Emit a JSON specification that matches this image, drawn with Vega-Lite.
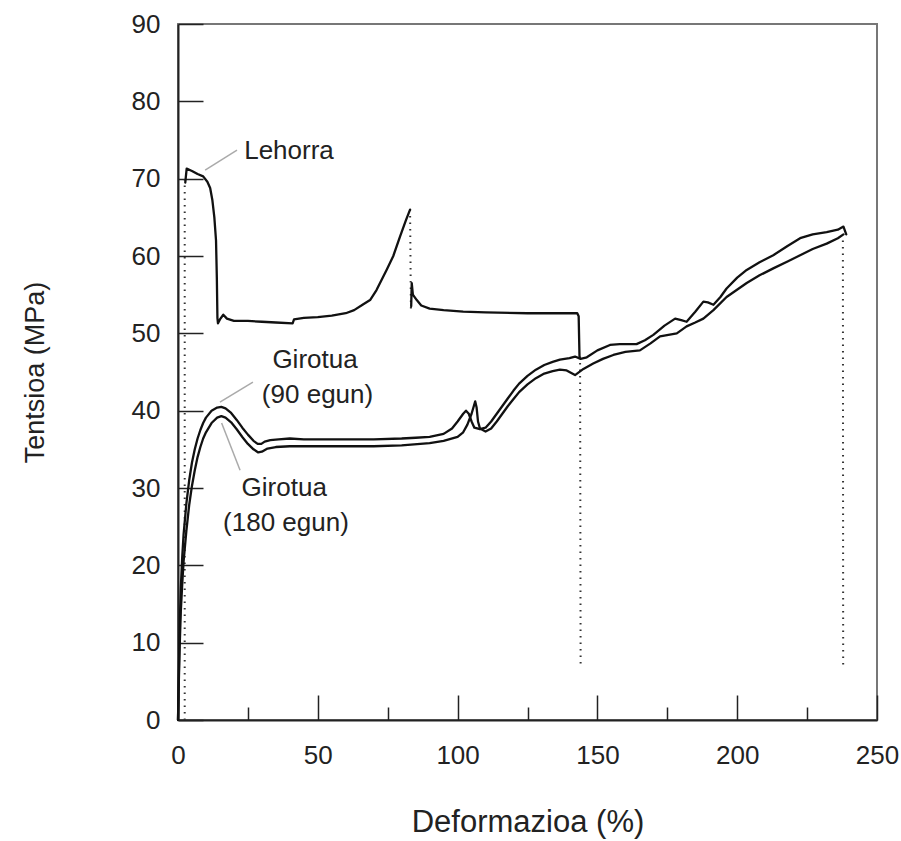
{
  "$schema": "https://vega.github.io/schema/vega-lite/v6.json",
  "width": 699,
  "height": 696,
  "autosize": "none",
  "padding": {"left": 178, "top": 24, "right": 24, "bottom": 121},
  "background": "white",
  "config": {
    "view": {"stroke": "#777", "strokeWidth": 2},
    "font": "Liberation Sans"
  },
  "datasets": {
    "solid": [
      {"s": "Lehorra1", "x": 2.6, "y": 69.5}, {"s": "Lehorra1", "x": 3.1, "y": 71.3}, {"s": "Lehorra1", "x": 5, "y": 71.0}, {"s": "Lehorra1", "x": 7, "y": 70.6}, {"s": "Lehorra1", "x": 9, "y": 70.3}, {"s": "Lehorra1", "x": 10.5, "y": 69.6}, {"s": "Lehorra1", "x": 11.5, "y": 68.8}, {"s": "Lehorra1", "x": 12.3, "y": 67.2}, {"s": "Lehorra1", "x": 13, "y": 65}, {"s": "Lehorra1", "x": 13.6, "y": 62}, {"s": "Lehorra1", "x": 13.9, "y": 57}, {"s": "Lehorra1", "x": 14.1, "y": 52}, {"s": "Lehorra1", "x": 14.3, "y": 51.3}, {"s": "Lehorra1", "x": 15, "y": 51.8}, {"s": "Lehorra1", "x": 16.2, "y": 52.4}, {"s": "Lehorra1", "x": 17.5, "y": 51.9}, {"s": "Lehorra1", "x": 20, "y": 51.6}, {"s": "Lehorra1", "x": 25, "y": 51.6}, {"s": "Lehorra1", "x": 30, "y": 51.5}, {"s": "Lehorra1", "x": 35, "y": 51.4}, {"s": "Lehorra1", "x": 41, "y": 51.3}, {"s": "Lehorra1", "x": 41.5, "y": 51.8}, {"s": "Lehorra1", "x": 45, "y": 52}, {"s": "Lehorra1", "x": 50, "y": 52.1}, {"s": "Lehorra1", "x": 55, "y": 52.3}, {"s": "Lehorra1", "x": 60, "y": 52.6}, {"s": "Lehorra1", "x": 63, "y": 53}, {"s": "Lehorra1", "x": 66, "y": 53.7}, {"s": "Lehorra1", "x": 68.7, "y": 54.3}, {"s": "Lehorra1", "x": 71, "y": 55.6}, {"s": "Lehorra1", "x": 74.6, "y": 58.2}, {"s": "Lehorra1", "x": 77, "y": 60}, {"s": "Lehorra1", "x": 79.4, "y": 62.5}, {"s": "Lehorra1", "x": 81.5, "y": 64.6}, {"s": "Lehorra1", "x": 83, "y": 66},
      {"s": "Lehorra2", "x": 83.4, "y": 53.5}, {"s": "Lehorra2", "x": 83.6, "y": 56.5}, {"s": "Lehorra2", "x": 84, "y": 55}, {"s": "Lehorra2", "x": 85.4, "y": 54.3}, {"s": "Lehorra2", "x": 87, "y": 53.6}, {"s": "Lehorra2", "x": 90, "y": 53.2}, {"s": "Lehorra2", "x": 95, "y": 53}, {"s": "Lehorra2", "x": 102, "y": 52.8}, {"s": "Lehorra2", "x": 110, "y": 52.7}, {"s": "Lehorra2", "x": 125, "y": 52.6}, {"s": "Lehorra2", "x": 142.8, "y": 52.6}, {"s": "Lehorra2", "x": 143.3, "y": 52.2}, {"s": "Lehorra2", "x": 143.6, "y": 47},
      {"s": "G90", "x": 0, "y": 0}, {"s": "G90", "x": 0.3, "y": 6}, {"s": "G90", "x": 0.6, "y": 12}, {"s": "G90", "x": 1, "y": 17}, {"s": "G90", "x": 1.5, "y": 21}, {"s": "G90", "x": 2, "y": 24}, {"s": "G90", "x": 3, "y": 28}, {"s": "G90", "x": 4, "y": 31}, {"s": "G90", "x": 5, "y": 33.3}, {"s": "G90", "x": 6, "y": 35}, {"s": "G90", "x": 7, "y": 36.4}, {"s": "G90", "x": 8, "y": 37.5}, {"s": "G90", "x": 9, "y": 38.4}, {"s": "G90", "x": 10, "y": 39.1}, {"s": "G90", "x": 12, "y": 40}, {"s": "G90", "x": 14, "y": 40.4}, {"s": "G90", "x": 15.5, "y": 40.5}, {"s": "G90", "x": 17, "y": 40.3}, {"s": "G90", "x": 19, "y": 39.7}, {"s": "G90", "x": 21, "y": 38.8}, {"s": "G90", "x": 23, "y": 37.8}, {"s": "G90", "x": 25, "y": 36.9}, {"s": "G90", "x": 27, "y": 36.1}, {"s": "G90", "x": 28.5, "y": 35.7}, {"s": "G90", "x": 29.8, "y": 35.7}, {"s": "G90", "x": 31, "y": 36}, {"s": "G90", "x": 33, "y": 36.2}, {"s": "G90", "x": 36, "y": 36.3}, {"s": "G90", "x": 40, "y": 36.4}, {"s": "G90", "x": 45, "y": 36.3}, {"s": "G90", "x": 50, "y": 36.3}, {"s": "G90", "x": 60, "y": 36.3}, {"s": "G90", "x": 70, "y": 36.3}, {"s": "G90", "x": 80, "y": 36.4}, {"s": "G90", "x": 85, "y": 36.5}, {"s": "G90", "x": 90, "y": 36.6}, {"s": "G90", "x": 95, "y": 37}, {"s": "G90", "x": 98, "y": 37.7}, {"s": "G90", "x": 100, "y": 38.6}, {"s": "G90", "x": 102, "y": 39.6}, {"s": "G90", "x": 103, "y": 40}, {"s": "G90", "x": 104, "y": 39.6}, {"s": "G90", "x": 105, "y": 38.6}, {"s": "G90", "x": 106, "y": 37.8}, {"s": "G90", "x": 108, "y": 37.6}, {"s": "G90", "x": 110, "y": 37.8}, {"s": "G90", "x": 112, "y": 38.6}, {"s": "G90", "x": 114, "y": 39.6}, {"s": "G90", "x": 116, "y": 40.6}, {"s": "G90", "x": 118, "y": 41.6}, {"s": "G90", "x": 120, "y": 42.6}, {"s": "G90", "x": 122, "y": 43.5}, {"s": "G90", "x": 125, "y": 44.5}, {"s": "G90", "x": 128, "y": 45.3}, {"s": "G90", "x": 131, "y": 45.9}, {"s": "G90", "x": 134, "y": 46.3}, {"s": "G90", "x": 136.6, "y": 46.6}, {"s": "G90", "x": 140, "y": 46.8}, {"s": "G90", "x": 142, "y": 47}, {"s": "G90", "x": 144, "y": 46.7}, {"s": "G90", "x": 146.2, "y": 46.9}, {"s": "G90", "x": 150, "y": 47.8}, {"s": "G90", "x": 154.5, "y": 48.5}, {"s": "G90", "x": 158, "y": 48.6}, {"s": "G90", "x": 164, "y": 48.6}, {"s": "G90", "x": 167, "y": 49.1}, {"s": "G90", "x": 170, "y": 49.8}, {"s": "G90", "x": 174, "y": 51}, {"s": "G90", "x": 177.8, "y": 51.9}, {"s": "G90", "x": 180, "y": 51.7}, {"s": "G90", "x": 181.9, "y": 51.5}, {"s": "G90", "x": 185, "y": 52.8}, {"s": "G90", "x": 187.9, "y": 54.1}, {"s": "G90", "x": 189.5, "y": 54}, {"s": "G90", "x": 191.5, "y": 53.7}, {"s": "G90", "x": 194, "y": 54.7}, {"s": "G90", "x": 196.2, "y": 55.8}, {"s": "G90", "x": 200, "y": 57.2}, {"s": "G90", "x": 203.4, "y": 58.2}, {"s": "G90", "x": 208, "y": 59.2}, {"s": "G90", "x": 212.9, "y": 60.1}, {"s": "G90", "x": 218, "y": 61.3}, {"s": "G90", "x": 222.5, "y": 62.3}, {"s": "G90", "x": 227, "y": 62.8}, {"s": "G90", "x": 232, "y": 63.1}, {"s": "G90", "x": 236, "y": 63.4}, {"s": "G90", "x": 238, "y": 63.8}, {"s": "G90", "x": 239, "y": 62.8},
      {"s": "G180", "x": 0, "y": 0}, {"s": "G180", "x": 0.3, "y": 5}, {"s": "G180", "x": 0.6, "y": 9.5}, {"s": "G180", "x": 1, "y": 14}, {"s": "G180", "x": 1.5, "y": 17.5}, {"s": "G180", "x": 2, "y": 20.5}, {"s": "G180", "x": 3, "y": 24.5}, {"s": "G180", "x": 4, "y": 27.8}, {"s": "G180", "x": 5, "y": 30.3}, {"s": "G180", "x": 6, "y": 32.3}, {"s": "G180", "x": 7, "y": 34}, {"s": "G180", "x": 8, "y": 35.3}, {"s": "G180", "x": 9, "y": 36.4}, {"s": "G180", "x": 10, "y": 37.2}, {"s": "G180", "x": 12, "y": 38.4}, {"s": "G180", "x": 14, "y": 39.1}, {"s": "G180", "x": 15.5, "y": 39.3}, {"s": "G180", "x": 17, "y": 39.1}, {"s": "G180", "x": 19, "y": 38.5}, {"s": "G180", "x": 21, "y": 37.6}, {"s": "G180", "x": 23, "y": 36.6}, {"s": "G180", "x": 25, "y": 35.7}, {"s": "G180", "x": 27, "y": 35}, {"s": "G180", "x": 28.7, "y": 34.6}, {"s": "G180", "x": 30, "y": 34.7}, {"s": "G180", "x": 32, "y": 35.1}, {"s": "G180", "x": 35, "y": 35.3}, {"s": "G180", "x": 40, "y": 35.4}, {"s": "G180", "x": 50, "y": 35.4}, {"s": "G180", "x": 60, "y": 35.4}, {"s": "G180", "x": 70, "y": 35.4}, {"s": "G180", "x": 80, "y": 35.5}, {"s": "G180", "x": 90, "y": 35.8}, {"s": "G180", "x": 95, "y": 36.1}, {"s": "G180", "x": 100, "y": 36.6}, {"s": "G180", "x": 102, "y": 37.2}, {"s": "G180", "x": 103.5, "y": 38.2}, {"s": "G180", "x": 105, "y": 39.6}, {"s": "G180", "x": 106.3, "y": 41.2}, {"s": "G180", "x": 106.8, "y": 40.4}, {"s": "G180", "x": 107.3, "y": 38.6}, {"s": "G180", "x": 108, "y": 37.7}, {"s": "G180", "x": 110, "y": 37.3}, {"s": "G180", "x": 112, "y": 37.7}, {"s": "G180", "x": 114, "y": 38.6}, {"s": "G180", "x": 116, "y": 39.6}, {"s": "G180", "x": 118, "y": 40.6}, {"s": "G180", "x": 120, "y": 41.5}, {"s": "G180", "x": 122, "y": 42.4}, {"s": "G180", "x": 125, "y": 43.4}, {"s": "G180", "x": 128, "y": 44.2}, {"s": "G180", "x": 131, "y": 44.8}, {"s": "G180", "x": 134, "y": 45.1}, {"s": "G180", "x": 136.6, "y": 45.3}, {"s": "G180", "x": 139, "y": 45.2}, {"s": "G180", "x": 142, "y": 44.6}, {"s": "G180", "x": 145, "y": 45.4}, {"s": "G180", "x": 148.5, "y": 46.1}, {"s": "G180", "x": 152, "y": 46.7}, {"s": "G180", "x": 155.7, "y": 47.2}, {"s": "G180", "x": 160, "y": 47.6}, {"s": "G180", "x": 165.2, "y": 47.8}, {"s": "G180", "x": 169, "y": 48.7}, {"s": "G180", "x": 172.4, "y": 49.6}, {"s": "G180", "x": 178.4, "y": 50}, {"s": "G180", "x": 181.9, "y": 50.9}, {"s": "G180", "x": 185, "y": 51.4}, {"s": "G180", "x": 187.9, "y": 51.9}, {"s": "G180", "x": 191.5, "y": 53}, {"s": "G180", "x": 196.2, "y": 54.7}, {"s": "G180", "x": 203.4, "y": 56.5}, {"s": "G180", "x": 208, "y": 57.5}, {"s": "G180", "x": 212.9, "y": 58.4}, {"s": "G180", "x": 218, "y": 59.3}, {"s": "G180", "x": 222.5, "y": 60.1}, {"s": "G180", "x": 227, "y": 60.9}, {"s": "G180", "x": 232, "y": 61.6}, {"s": "G180", "x": 236, "y": 62.3}, {"s": "G180", "x": 238, "y": 62.8}
    ],
    "dotted": [
      {"s": "d0", "x": 2.4, "y": 0}, {"s": "d0", "x": 2.4, "y": 70},
      {"s": "d1", "x": 83, "y": 66}, {"s": "d1", "x": 83.3, "y": 53.2},
      {"s": "d2", "x": 143.8, "y": 47}, {"s": "d2", "x": 144, "y": 7},
      {"s": "d3", "x": 237.8, "y": 62}, {"s": "d3", "x": 237.9, "y": 7}
    ],
    "leaders": [
      {"x": 9.7, "y": 71.1, "x2": 21.1, "y2": 73.7},
      {"x": 15.0, "y": 41.1, "x2": 26.8, "y2": 43.7},
      {"x": 15.6, "y": 38.4, "x2": 22.2, "y2": 32.3}
    ],
    "labels": [
      {"t": "Lehorra", "x": 39.7, "y": 73.6},
      {"t": "Girotua", "x": 49.0, "y": 46.6},
      {"t": "(90 egun)", "x": 49.9, "y": 42.0},
      {"t": "Girotua", "x": 38.0, "y": 30.0},
      {"t": "(180 egun)", "x": 38.6, "y": 25.5}
    ]
  },
  "layer": [
    {
      "data": {"name": "leaders"},
      "mark": {"type": "rule", "color": "#aaaaaa", "strokeWidth": 1.5},
      "encoding": {
        "x": {"field": "x", "type": "quantitative", "scale": {"domain": [0, 250], "nice": false}},
        "y": {"field": "y", "type": "quantitative", "scale": {"domain": [0, 90], "nice": false}},
        "x2": {"field": "x2"},
        "y2": {"field": "y2"}
      }
    },
    {
      "data": {"name": "dotted"},
      "mark": {"type": "line", "color": "#333", "strokeWidth": 2, "strokeDash": [1.5, 5]},
      "encoding": {
        "x": {"field": "x", "type": "quantitative"},
        "y": {"field": "y", "type": "quantitative"},
        "detail": {"field": "s"}
      }
    },
    {
      "data": {"name": "solid"},
      "mark": {"type": "line", "color": "#111", "strokeWidth": 2.3, "strokeJoin": "round", "strokeCap": "round"},
      "encoding": {
        "x": {
          "field": "x", "type": "quantitative",
          "axis": {
            "values": [0, 25, 50, 75, 100, 125, 150, 175, 200, 225, 250],
            "tickSize": {"condition": {"test": "datum.value % 50 === 0", "value": -25}, "value": -13},
            "labelExpr": "datum.value % 50 === 0 ? datum.label : ''",
            "domainColor": "#222", "domainWidth": 2,
            "tickColor": "#222", "tickWidth": 1.5,
            "labelFontSize": 26, "labelColor": "#222", "labelPadding": 47,
            "labelFlush": false,
            "grid": false,
            "title": "Deformazioa (%)", "titleFontSize": 31, "titleFontWeight": "normal", "titleColor": "#222", "titlePadding": 39
          }
        },
        "y": {
          "field": "y", "type": "quantitative",
          "axis": {
            "values": [0, 5, 10, 15, 20, 25, 30, 35, 40, 45, 50, 55, 60, 65, 70, 75, 80, 85, 90],
            "tickSize": {"condition": {"test": "datum.value % 10 === 0", "value": -25}, "value": -13},
            "labelExpr": "datum.value % 10 === 0 ? datum.label : ''",
            "domainColor": "#222", "domainWidth": 2,
            "tickColor": "#222", "tickWidth": 1.5,
            "labelFontSize": 26, "labelColor": "#222", "labelPadding": 43,
            "labelFlush": false,
            "grid": false,
            "title": "Tentsioa (MPa)", "titleFontSize": 27, "titleFontWeight": "normal", "titleColor": "#222", "titlePadding": 82
          }
        },
        "detail": {"field": "s"}
      }
    },
    {
      "data": {"name": "labels"},
      "mark": {"type": "text", "fontSize": 26, "color": "#222", "baseline": "middle", "align": "center"},
      "encoding": {
        "x": {"field": "x", "type": "quantitative"},
        "y": {"field": "y", "type": "quantitative"},
        "text": {"field": "t"}
      }
    }
  ]
}
